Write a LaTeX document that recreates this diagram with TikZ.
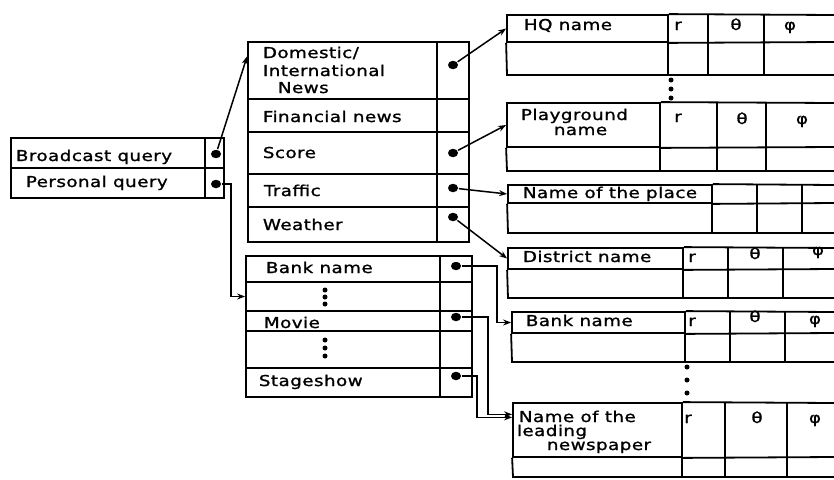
\documentclass[tikz,border=0pt]{standalone}
\usepackage{fontspec}
\setmainfont[FakeStretch=1.22,LetterSpace=3,FakeBold=1.2]{DejaVu Sans}
\usetikzlibrary{arrows.meta,calc,fit,shapes.geometric}
\newcommand\rtab[8]{%
  \node[cellbox={(#2,#6) (#3,#7)}] (#1) {};
  \draw (#1.north east) -- (834,#6);
  \draw (#1.south east) -- (834,#7);
  \draw (#1.south west) -- (#2,#8) -- (834,#8);
  \draw (#3,#7) -- (#3,#8);
  \draw (#4,#6) -- (#4,#8);
  \draw (#5,#6) -- (#5,#8);
}
\begin{document}
\begin{tikzpicture}[x=1pt,y=-1pt,line width=1.8pt,
  cellbox/.style={draw,inner sep=0pt,fit={#1}},
  lbl/.style={anchor=base west,inner sep=0pt,font=\fontsize{15}{17.5}\selectfont},
  sym/.style={anchor=base,inner sep=0pt,font=\fontsize{15}{17.5}\selectfont},
  dotnode/.style={ellipse,fill,inner sep=0pt,minimum width=10pt,minimum height=8.5pt},
  smalldot/.style={circle,fill,inner sep=0pt,minimum size=5pt},
  conn/.style={-{Stealth[length=8pt,width=6pt]},line width=1.5pt}]
\useasboundingbox (0,0) rectangle (834,479);

% ---------- left table ----------
\node[cellbox={(11,138) (205,168)}] (bq) {};
\node[cellbox={(205,138) (224,168)}] (bqc) {};
\node[cellbox={(11,168) (205,198)}] (pq) {};
\node[cellbox={(205,168) (224,198)}] (pqc) {};
\node[lbl] (bqt) at (15,161) {Broadcast query};
\node[lbl] (pqt) at (25,187) {Personal query};
\node[dotnode] (bqdot) at (216,154) {};
\node[dotnode] (pqdot) at (216,184) {};

% ---------- news table ----------
\node[cellbox={(248,42) (437,99)}] (dom) {};
\node[cellbox={(437,42) (469,99)}] (domc) {};
\node[cellbox={(248,99) (437,132)}] (fin) {};
\node[cellbox={(437,99) (469,132)}] (finc) {};
\node[cellbox={(248,132) (437,174)}] (sco) {};
\node[cellbox={(437,132) (469,174)}] (scoc) {};
\node[cellbox={(248,174) (437,207)}] (tra) {};
\node[cellbox={(437,174) (469,207)}] (trac) {};
\node[cellbox={(248,207) (437,242)}] (wea) {};
\node[cellbox={(437,207) (469,242)}] (weac) {};
\node[lbl] (domt1) at (262,58) {Domestic/};
\node[lbl] (domt2) at (262,76) {International};
\node[lbl] (domt3) at (277,93) {News};
\node[lbl] (fint) at (262,122) {Financial news};
\node[lbl] (scot) at (262,158) {Score};
\node[lbl] (trat) at (263,196) {Traffic};
\node[lbl] (weat) at (262,230) {Weather};
\node[dotnode] (domd) at (453,65) {};
\node[dotnode] (scod) at (453,153) {};
\node[dotnode] (trad) at (453,188) {};
\node[dotnode] (wead) at (453,217) {};

% ---------- personal table ----------
\node[cellbox={(246,256) (440,282)}] (bkl) {};
\node[cellbox={(440,256) (472,282)}] (bklc) {};
\node[cellbox={(246,282) (440,311)}] (rtwo) {};
\node[cellbox={(440,282) (472,311)}] (rtwoc) {};
\node[cellbox={(246,311) (440,331)}] (mov) {};
\node[cellbox={(440,311) (472,331)}] (movc) {};
\node[cellbox={(246,331) (440,368)}] (rfour) {};
\node[cellbox={(440,331) (472,368)}] (rfourc) {};
\node[cellbox={(246,368) (440,397)}] (stg) {};
\node[cellbox={(440,368) (472,397)}] (stgc) {};
\node[lbl] (bklt) at (265,273) {Bank name};
\node[lbl] (movt) at (263,328) {Movie};
\node[lbl] (stgt) at (258,386) {Stageshow};
\node[smalldot] (ea1) at (325,290) {};
\node[smalldot] (ea2) at (325,297) {};
\node[smalldot] (ea3) at (325,304) {};
\node[smalldot] (eb1) at (325,340) {};
\node[smalldot] (eb2) at (325,348) {};
\node[smalldot] (eb3) at (325,356) {};
\node[dotnode] (bkd) at (456,266) {};
\node[dotnode] (movd) at (456,317) {};
\node[dotnode] (stgd) at (456,376) {};

% ---------- right tables ----------
\rtab{hq}{507}{668}{708}{764}{15}{42}{75}
\rtab{pg}{507}{660}{717}{766}{103}{147}{171}
\rtab{pl}{508}{712}{757}{802}{185}{203}{233}
\rtab{di}{508}{683}{728}{783}{248}{269}{298}
\rtab{br}{512}{685}{730}{785}{312}{333}{362}
\rtab{ld}{513}{682}{725}{787}{403}{457}{477}

\node[lbl] (hqt) at (523,30) {HQ name};
\node[sym] (hqr) at (678,30) {r};
\node[sym] (hqth) at (736,30) {θ};
\node[sym] (hqph) at (790,30) {φ};

\node[lbl] (pgt1) at (520,120) {Playground};
\node[lbl] (pgt2) at (553,135) {name};
\node[sym] (pgr) at (678,122) {r};
\node[sym] (pgth) at (742,124) {θ};
\node[sym] (pgph) at (802,124) {φ};

\node[lbl] (plt) at (522,198) {Name of the place};

\node[lbl] (dit) at (522,262) {District name};
\node[sym] (dir) at (692,262) {r};
\node[sym] (dith) at (755,259) {θ};
\node[sym] (diph) at (818,255) {φ};

\node[lbl] (brt) at (525,326) {Bank name};
\node[sym] (brr) at (692,326) {r};
\node[sym] (brth) at (755,322) {θ};
\node[sym] (brph) at (815,324) {φ};

\node[lbl] (ldt1) at (518,422) {Name of the};
\node[lbl] (ldt2) at (516,436) {leading};
\node[lbl] (ldt3) at (546,450) {newspaper};
\node[sym] (ldr) at (688,423) {r};
\node[sym] (ldth) at (757,423) {θ};
\node[sym] (ldph) at (815,423) {φ};

\node[smalldot] (ec1) at (671,80) {};
\node[smalldot] (ec2) at (671,89) {};
\node[smalldot] (ec3) at (671,98) {};
\node[smalldot] (ed1) at (687,367) {};
\node[smalldot] (ed2) at (687,380) {};
\node[smalldot] (ed3) at (687,393) {};

% ---------- connectors ----------
\coordinate (domin) at ($(dom.north west)!0.26!(dom.south west)$);
\coordinate (ldin) at ($(ld.north west)!0.22!(ld.south west)$);
\draw[conn] (bqdot) -- (domin);
\draw[conn] (pqdot.east) -| ([xshift=-14pt]rtwo.west) -- (rtwo.west);
\draw[conn] (domd) -- (hq.west);
\draw[conn] (scod) -- (pg.west);
\draw[conn] (trad) -- (pl.west);
\draw[conn] (wead) -- (di.west);
\draw[conn] (bkd.east) -| ([xshift=-14pt]br.west) -- (br.west);
\draw[conn] (movd.east) -| ([xshift=-24pt]ldin) -- (ldin);
\draw[conn] (stgd.east) -| ([xshift=-35pt,yshift=-3pt]ldin) -- ([yshift=-3pt]ldin);
\end{tikzpicture}
\end{document}
